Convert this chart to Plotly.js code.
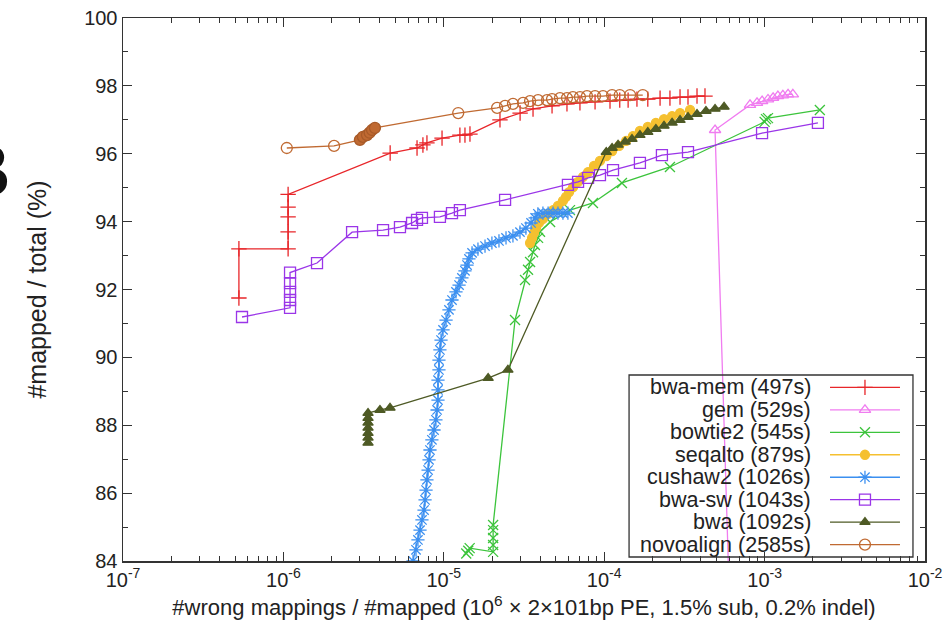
<!DOCTYPE html>
<html>
<head>
<meta charset="utf-8">
<script src="https://cdn.plot.ly/plotly-3.0.1.min.js"></script>
<style>html,body{margin:0;padding:0;background:#fff;}#chart{width:948px;height:638px;}</style>
</head>
<body>
<div id="chart"></div>
<script>
// ---- data ----
const seriesNames = ["bwa-mem (497s)", "gem (529s)", "bowtie2 (545s)", "seqalto (879s)", "cushaw2 (1026s)", "bwa-sw (1043s)", "bwa (1092s)", "novoalign (2585s)"];

const bwaMemX = [5.28e-7, 5.28e-7, 1.07e-6, 1.07e-6, 1.07e-6, 1.07e-6, 1.07e-6, 4.63e-6, 6.81e-6, 7.41e-6, 7.85e-6, 9.75e-6, 1.26e-5, 1.355e-5, 1.456e-5, 2.24e-5, 2.99e-5, 3.6e-5, 4.73e-5, 5.86e-5, 7.06e-5, 8.77e-5, 1.087e-4, 1.25e-4, 1.41e-4, 1.60e-4, 1.87e-4, 2.23e-4, 2.57e-4, 2.97e-4, 3.33e-4, 3.79e-4, 4.25e-4];
const bwaMemY = [91.75, 93.2, 93.2, 93.7, 94.14, 94.43, 94.8, 96.02, 96.17, 96.26, 96.32, 96.46, 96.55, 96.55, 96.58, 97.0, 97.2, 97.32, 97.41, 97.47, 97.50, 97.53, 97.55, 97.58, 97.58, 97.61, 97.61, 97.64, 97.64, 97.67, 97.67, 97.70, 97.70];

const gemX = [6.3e-4, 4.91e-4, 8.11e-4, 8.97e-4, 9.65e-4, 1.05e-3, 1.13e-3, 1.21e-3, 1.30e-3, 1.40e-3, 1.50e-3];
const gemY = [80.0, 96.7, 97.44, 97.5, 97.55, 97.6, 97.65, 97.7, 97.72, 97.75, 97.75];

const bowtie2X = [1.38e-5, 1.42e-5, 1.45e-5, 2.03e-5, 2.03e-5, 2.03e-5, 2.03e-5, 2.03e-5, 2.78e-5, 3.21e-5, 3.35e-5, 3.45e-5, 3.6e-5, 3.7e-5, 3.87e-5, 3.98e-5, 4.6e-5, 6.12e-5, 8.51e-5, 1.29e-4, 2.57e-4, 1.0e-3, 1.02e-3, 1.05e-3, 2.21e-3];
const bowtie2Y = [84.22, 84.3, 84.38, 84.27, 84.47, 84.68, 84.91, 85.06, 91.1, 92.28, 92.58, 92.81, 93.1, 93.31, 93.52, 93.7, 93.99, 94.34, 94.55, 95.14, 95.61, 96.94, 97.02, 97.05, 97.29];

const seqaltoX = [3.45e-5, 3.55e-5, 3.65e-5, 3.76e-5, 3.92e-5, 4.15e-5, 4.46e-5, 4.80e-5, 5.15e-5, 5.53e-5, 5.78e-5, 6.04e-5, 6.40e-5, 6.87e-5, 7.38e-5, 7.93e-5, 8.64e-5, 9.41e-5, 1.03e-4, 1.12e-4, 1.24e-4, 1.37e-4, 1.51e-4, 1.67e-4, 1.87e-4, 2.10e-4, 2.36e-4, 2.65e-4, 2.97e-4, 3.43e-4];
const seqaltoY = [93.37, 93.52, 93.67, 93.81, 93.96, 94.08, 94.23, 94.34, 94.46, 94.61, 94.73, 94.87, 95.02, 95.17, 95.32, 95.46, 95.64, 95.79, 95.93, 96.08, 96.23, 96.38, 96.52, 96.67, 96.79, 96.91, 97.02, 97.11, 97.20, 97.29];

const cushaw2X = [6.15e-6, 6.43e-6, 6.71e-6, 6.90e-6, 7.11e-6, 7.31e-6, 7.53e-6, 7.64e-6, 7.75e-6, 7.85e-6, 7.98e-6, 8.09e-6, 8.20e-6, 8.43e-6, 8.69e-6, 8.93e-6, 9.08e-6, 9.20e-6, 9.20e-6, 9.20e-6, 9.33e-6, 9.33e-6, 9.46e-6, 9.61e-6, 9.89e-6, 1.033e-5, 1.077e-5, 1.125e-5, 1.191e-5, 1.245e-5, 1.297e-5, 1.355e-5, 1.396e-5, 1.435e-5, 1.500e-5, 1.633e-5, 1.807e-5, 1.995e-5, 2.208e-5, 2.443e-5, 2.698e-5, 2.985e-5, 3.25e-5, 3.50e-5, 3.71e-5, 3.86e-5, 4.15e-5, 4.47e-5, 4.80e-5, 5.15e-5, 5.53e-5, 5.94e-5];
const cushaw2Y = [83.59, 84.0, 84.33, 84.62, 84.91, 85.21, 85.50, 85.80, 86.09, 86.39, 86.68, 86.98, 87.27, 87.57, 87.86, 88.16, 88.45, 88.74, 89.04, 89.33, 89.63, 89.92, 90.22, 90.51, 90.81, 91.10, 91.40, 91.69, 91.93, 92.13, 92.34, 92.55, 92.72, 92.90, 93.08, 93.19, 93.28, 93.37, 93.43, 93.52, 93.58, 93.69, 93.81, 93.96, 94.11, 94.23, 94.25, 94.25, 94.25, 94.25, 94.25, 94.25];

const bwaSwX = [5.52e-7, 1.10e-6, 1.10e-6, 1.10e-6, 1.10e-6, 1.10e-6, 1.62e-6, 2.68e-6, 4.18e-6, 5.33e-6, 6.34e-6, 6.81e-6, 7.31e-6, 9.46e-6, 1.125e-5, 1.26e-5, 2.41e-5, 5.94e-5, 6.87e-5, 7.93e-5, 9.41e-5, 1.135e-4, 1.67e-4, 2.29e-4, 3.33e-4, 9.64e-4, 2.15e-3];
const bwaSwY = [91.19, 91.46, 91.69, 91.93, 92.19, 92.5, 92.78, 93.69, 93.75, 93.84, 93.96, 94.05, 94.11, 94.14, 94.25, 94.34, 94.64, 95.08, 95.17, 95.29, 95.37, 95.52, 95.73, 95.96, 96.05, 96.61, 96.91];

const bwaX = [3.37e-6, 3.37e-6, 3.37e-6, 3.37e-6, 3.37e-6, 3.37e-6, 3.37e-6, 4.0e-6, 4.62e-6, 1.89e-5, 2.51e-5, 1.03e-4, 1.12e-4, 1.22e-4, 1.35e-4, 1.49e-4, 1.67e-4, 1.87e-4, 2.10e-4, 2.36e-4, 2.65e-4, 2.97e-4, 3.33e-4, 3.79e-4, 4.31e-4, 4.91e-4, 5.59e-4];
const bwaY = [87.48, 87.63, 87.77, 87.92, 88.07, 88.21, 88.36, 88.45, 88.51, 89.39, 89.63, 96.05, 96.17, 96.26, 96.35, 96.43, 96.55, 96.64, 96.73, 96.82, 96.91, 96.99, 97.08, 97.17, 97.26, 97.32, 97.38];

const novoX = [1.05e-6, 2.07e-6, 3.0e-6, 3.13e-6, 3.32e-6, 3.45e-6, 3.57e-6, 3.72e-6, 1.23e-5, 2.15e-5, 2.41e-5, 2.70e-5, 3.12e-5, 3.45e-5, 3.87e-5, 4.40e-5, 4.73e-5, 5.30e-5, 5.86e-5, 6.38e-5, 7.06e-5, 7.81e-5, 8.77e-5, 9.83e-5, 1.12e-4, 1.25e-4, 1.45e-4, 1.74e-4];
const novoY = [96.17, 96.23, 96.41, 96.5, 96.55, 96.62, 96.7, 96.76, 97.2, 97.35, 97.41, 97.47, 97.5, 97.55, 97.58, 97.58, 97.61, 97.64, 97.64, 97.67, 97.67, 97.7, 97.7, 97.7, 97.73, 97.73, 97.73, 97.73];

const xTickVals = [1e-7, 1e-6, 1e-5, 1e-4, 1e-3, 1e-2];
const xTickText = ["10<sup>-7</sup>", "10<sup>-6</sup>", "10<sup>-5</sup>", "10<sup>-4</sup>", "10<sup>-3</sup>", "10<sup>-2</sup>"];

// ---- styles ----
const seriesX = [bwaMemX, gemX, bowtie2X, seqaltoX, cushaw2X, bwaSwX, bwaX, novoX];
const seriesY = [bwaMemY, gemY, bowtie2Y, seqaltoY, cushaw2Y, bwaSwY, bwaY, novoY];
const colors = ['#e8262a', '#f07cf0', '#3cc43c', '#f5c030', '#3b8ff0', '#9a35e8', '#4e5a25', '#c06a32'];
const symbols = ['cross-thin-open', 'triangle-up-open', 'x-thin-open', 'circle', 'asterisk-open', 'square-open', 'triangle-up', 'circle-open'];
const sizes = [11, 10, 10, 9, 11, 11, 9, 11];

const FONT = 'Liberation Sans, Arial, sans-serif';
const traces = [];
for (let i = 0; i < seriesNames.length; i++) {
  let sym = symbols[i];
  // the dense novoalign cluster near 3e-6 reads as filled discs in the reference
  if (i === 7) sym = seriesX[i].map(v => (v > 2.5e-6 && v < 4e-6) ? 'circle' : 'circle-open');
  traces.push({
    x: seriesX[i], y: seriesY[i], type: 'scatter', mode: 'lines+markers',
    name: seriesNames[i], showlegend: false, cliponaxis: true,
    line: {color: colors[i], width: 1.3},
    marker: {symbol: sym, size: sizes[i], color: colors[i], line: {color: (i === 7 ? '#a85a28' : colors[i]), width: 1.3}}
  });
}
// custom gnuplot-style legend samples (symbol to the right of the text)
for (let i = 0; i < seriesNames.length; i++) {
  traces.push({x: [0, 1], y: [i, i], xaxis: 'x2', yaxis: 'y2', type: 'scatter', mode: 'lines',
    line: {color: colors[i], width: 1.3}, showlegend: false, hoverinfo: 'skip'});
  traces.push({x: [0.5], y: [i], xaxis: 'x2', yaxis: 'y2', type: 'scatter', mode: 'markers',
    marker: {symbol: symbols[i], size: sizes[i], color: colors[i], line: {color: colors[i], width: 1.3}}, showlegend: false, hoverinfo: 'skip'});
}

const annotations = seriesNames.map((n, i) => ({
  text: n, xref: 'paper', yref: 'y2', x: 0.8603, y: i, xanchor: 'right', yanchor: 'middle',
  showarrow: false, font: {family: FONT, size: 21.5, color: '#222'}
}));
annotations.push({text: '<b>B</b>', xref: 'paper', yref: 'paper', x: -0.138, y: 0.72, xanchor: 'right', yanchor: 'middle',
  showarrow: false, font: {family: FONT, size: 74, color: '#111'}});

const layout = {
  width: 948, height: 638,
  margin: {l: 123, r: 23, t: 18, b: 77},
  paper_bgcolor: '#fff', plot_bgcolor: '#fff',
  font: {family: FONT, color: '#222', size: 20},
  showlegend: false,
  xaxis: {
    type: 'log', range: [-7, -2], tickmode: 'array', tickvals: xTickVals, ticktext: xTickText,
    ticks: 'inside', ticklen: 9, tickwidth: 1.2, tickcolor: '#333',
    showline: true, linecolor: '#333', linewidth: 1.5, mirror: 'ticks',
    showgrid: false, zeroline: false, tickfont: {size: 20, family: FONT},
    minor: {ticks: 'inside', ticklen: 5, tickwidth: 1, tickcolor: '#333', dtick: 'D1', showgrid: false},
    title: {text: '#wrong mappings / #mapped (10<sup>6</sup> × 2×101bp PE, 1.5% sub, 0.2% indel)', font: {size: 22, family: FONT}, standoff: 10}
  },
  yaxis: {
    range: [84, 100], tick0: 84, dtick: 2,
    ticks: 'inside', ticklen: 9, tickwidth: 1.2, tickcolor: '#333',
    showline: true, linecolor: '#333', linewidth: 1.5, mirror: 'ticks',
    showgrid: false, zeroline: false, tickfont: {size: 20, family: FONT},
    minor: {ticks: 'inside', ticklen: 5, tickwidth: 1, tickcolor: '#333', dtick: 1, showgrid: false},
    title: {text: '#mapped / total (%)', font: {size: 25, family: FONT}, standoff: 30}
  },
  xaxis2: {domain: [0.8815, 0.9688], range: [0, 1], visible: false, anchor: 'y2'},
  yaxis2: {domain: [0.0074, 0.3425], range: [7.55, -0.55], visible: false, anchor: 'x2'},
  shapes: [{type: 'rect', xref: 'paper', yref: 'paper', x0: 0.631, x1: 0.985, y0: 0.0074, y1: 0.3425,
    line: {color: '#333', width: 1.3}, fillcolor: 'rgba(0,0,0,0)', layer: 'above'}],
  annotations: annotations
};

Plotly.newPlot('chart', traces, layout, {displayModeBar: false, staticPlot: true});
</script>
</body>
</html>
